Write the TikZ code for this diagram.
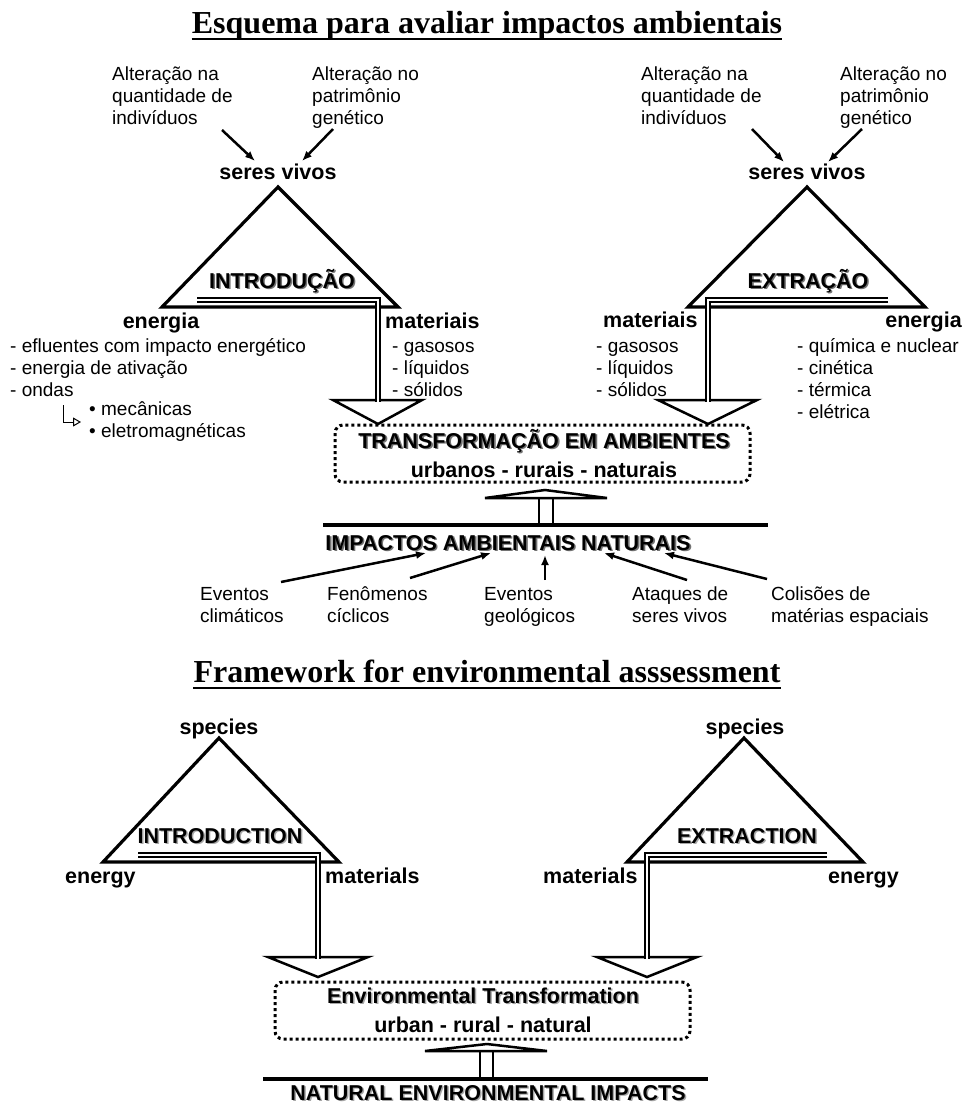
\documentclass[tikz,border=0pt]{standalone}
\usepackage{fontspec}
\setmainfont{Liberation Sans}
\newfontfamily\ttlfont{Liberation Serif}
\usetikzlibrary{arrows.meta}
\tikzset{
 body/.style={font=\fontsize{19}{22}\selectfont, inner sep=0pt, align=left},
 lab/.style={font=\bfseries\fontsize{21.5}{24}\selectfont, inner sep=0pt},
 ttl/.style={font=\ttlfont\bfseries\fontsize{32}{36}\selectfont, inner sep=0pt},
 shdark/.style={lab, text=black!55},
 shlight/.style={lab, text=black!35},
 tri/.style={draw, line width=3.2pt, line join=miter},
 dbl/.style={draw=black, line width=2.2pt, double=white, double distance=2.4pt, line join=miter},
 hd/.style={draw, line width=2.5pt, fill=white, line join=miter},
 dotbox/.style={draw, line width=3pt, dash pattern=on 3pt off 3pt, rounded corners=8pt},
 barline/.style={line width=3.5pt},
 arr/.style={line width=2.5pt, -{Latex[length=10pt,width=8pt]}},
 thinarr/.style={line width=1pt, -{Triangle[open,length=8pt,width=9pt]}},
 uline/.style={line width=2.8pt},
}
\begin{document}
\begin{tikzpicture}[x=1pt,y=-1pt]
\fill[white] (0,0) rectangle (963,1104);
\useasboundingbox (0,0) rectangle (963,1104);

% ---------- Title 1
\node[ttl, anchor=base] (t1) at (487,33) {Esquema para avaliar impactos ambientais};
\draw[uline] ([yshift=-6pt]t1.base west) -- ([yshift=-6pt]t1.base east);

% ---------- top-left block (multi-line nodes: base = last line)
\node[body, anchor=base west] (q1) at (112,124) {Alteração na\\quantidade de\\indivíduos};
\node[body, anchor=base west] (g1) at (312,124) {Alteração no\\patrimônio\\genético};
\node[lab, anchor=base] (sv1) at (278,179) {seres vivos};
\coordinate (q1a) at (222,130); \coordinate (q1b) at (255,161);
\coordinate (g1a) at (333,129); \coordinate (g1b) at (302,161);
\draw[arr] (q1a) -- (q1b);
\draw[arr] (g1a) -- (g1b);

\coordinate (T1a) at (278,187); \coordinate (T1b) at (162,307); \coordinate (T1c) at (398,307);
\draw[tri] (T1a) -- (T1b) -- (T1c) -- cycle;

\coordinate (H1l) at (333,400); \coordinate (H1r) at (422,400); \coordinate (H1t) at (378,424);
\draw[hd] (H1l) -- (H1r) -- (H1t) -- cycle;
\coordinate (S1a) at (197,300); \coordinate (S1b) at (378,300); \coordinate (S1c) at (378,401.5);
\draw[dbl] (S1a) -- (S1b) -- (S1c);

\node[shdark, anchor=base] (intS) at (283.6,289.6) {INTRODUÇÃO};
\node[lab, anchor=base] (int) at (282,288) {INTRODUÇÃO};

\node[lab, anchor=base] (en1) at (161,328) {energia};
\node[lab, anchor=base west] (ma1) at (385,328) {materiais};
\node[body, anchor=base west] (enl1) at (10,396) {- efluentes com impacto energético\\- energia de ativação\\- ondas};
\node[body, anchor=base west] (ond) at (89,437) {• mecânicas\\• eletromagnéticas};
\coordinate (o1) at (63,405); \coordinate (o2) at (63,422); \coordinate (o3) at (81,422);
\draw[thinarr] (o1) -- (o2) -- (o3);
\node[body, anchor=base west] (mal1) at (392,396) {- gasosos\\- líquidos\\- sólidos};

% ---------- top-right block
\node[body, anchor=base west] (q2) at (641,124) {Alteração na\\quantidade de\\indivíduos};
\node[body, anchor=base west] (g2) at (840,124) {Alteração no\\patrimônio\\genético};
\node[lab, anchor=base] (sv2) at (807,179) {seres vivos};
\coordinate (q2a) at (752,129); \coordinate (q2b) at (784,162);
\coordinate (g2a) at (862,129); \coordinate (g2b) at (828,162);
\draw[arr] (q2a) -- (q2b);
\draw[arr] (g2a) -- (g2b);

\coordinate (T2a) at (807,187); \coordinate (T2b) at (688,307); \coordinate (T2c) at (925,307);
\draw[tri] (T2a) -- (T2b) -- (T2c) -- cycle;

\coordinate (H2l) at (658,400); \coordinate (H2r) at (757,400); \coordinate (H2t) at (708,424);
\draw[hd] (H2l) -- (H2r) -- (H2t) -- cycle;
\coordinate (S2a) at (888,300); \coordinate (S2b) at (708,300); \coordinate (S2c) at (708,401.5);
\draw[dbl] (S2a) -- (S2b) -- (S2c);

\node[shdark, anchor=base] (extS) at (809.6,289.6) {EXTRAÇÃO};
\node[lab, anchor=base] (ext) at (808,288) {EXTRAÇÃO};

\node[lab, anchor=base west] (ma2) at (603,327) {materiais};
\node[lab, anchor=base east] (en2) at (962,327) {energia};
\node[body, anchor=base west] (mal2) at (596,396) {- gasosos\\- líquidos\\- sólidos};
\node[body, anchor=base west] (enl2) at (797,418) {- química e nuclear\\- cinética\\- térmica\\- elétrica};

% ---------- transformation box (top)
\draw[dotbox] (335,425) rectangle (750,482);
\node[shdark, anchor=base] (trS) at (545.6,449.6) {TRANSFORMAÇÃO EM AMBIENTES};
\node[lab, anchor=base] (tr) at (544,448) {TRANSFORMAÇÃO EM AMBIENTES};
\node[lab, anchor=base] (urb) at (544,477) {urbanos - rurais - naturais};

% ---------- up arrow and bar (top)
\coordinate (U1l) at (485,498); \coordinate (U1t) at (545,490); \coordinate (U1r) at (607,498);
\draw[hd] (U1l) -- (U1t) -- (U1r) -- cycle;
\coordinate (U1a) at (539,498); \coordinate (U1b) at (539,525);
\coordinate (U1c) at (553,498); \coordinate (U1d) at (553,525);
\draw[line width=2.5pt] (U1a) -- (U1b) (U1c) -- (U1d);
\coordinate (B1a) at (323,525); \coordinate (B1b) at (768,525);
\draw[barline] (B1a) -- (B1b);

\node[shdark, anchor=base] (impS) at (509.6,551.6) {IMPACTOS AMBIENTAIS NATURAIS};
\node[lab, anchor=base] (imp) at (508,550) {IMPACTOS AMBIENTAIS NATURAIS};

\node[body, anchor=base west] (ev1) at (200,622) {Eventos\\climáticos};
\node[body, anchor=base west] (fe1) at (327,622) {Fenômenos\\cíclicos};
\node[body, anchor=base west] (ev2) at (484,622) {Eventos\\geológicos};
\node[body, anchor=base west] (at1) at (632,622) {Ataques de\\seres vivos};
\node[body, anchor=base west] (co1) at (771,622) {Colisões de\\matérias espaciais};
\coordinate (p1a) at (281,582); \coordinate (p1b) at (426,553);
\coordinate (p2a) at (410,578); \coordinate (p2b) at (491,553);
\coordinate (p3a) at (545,580); \coordinate (p3b) at (545,555);
\coordinate (p4a) at (687,580); \coordinate (p4b) at (604,553);
\coordinate (p5a) at (767,579); \coordinate (p5b) at (664,553);
\draw[arr] (p1a) -- (p1b);
\draw[arr] (p2a) -- (p2b);
\draw[arr] (p3a) -- (p3b);
\draw[arr] (p4a) -- (p4b);
\draw[arr] (p5a) -- (p5b);

% ---------- Title 2
\node[ttl, anchor=base] (t2) at (487,682) {Framework for environmental asssessment};
\draw[uline] ([yshift=-6pt]t2.base west) -- ([yshift=-6pt]t2.base east);

% ---------- bottom-left
\node[lab, anchor=base] (sp1) at (219,734) {species};
\coordinate (T3a) at (219,738); \coordinate (T3b) at (103,862); \coordinate (T3c) at (339,862);
\draw[tri] (T3a) -- (T3b) -- (T3c) -- cycle;
\coordinate (H3l) at (268,957); \coordinate (H3r) at (368,957); \coordinate (H3t) at (318,977);
\draw[hd] (H3l) -- (H3r) -- (H3t) -- cycle;
\coordinate (S3a) at (138,855); \coordinate (S3b) at (318,855); \coordinate (S3c) at (318,958.5);
\draw[dbl] (S3a) -- (S3b) -- (S3c);
\node[shlight, anchor=base] (in2S) at (221.5,844.5) {INTRODUCTION};
\node[lab, anchor=base] (in2) at (220,843) {INTRODUCTION};
\node[lab, anchor=base west] (en3) at (65,883) {energy};
\node[lab, anchor=base west] (ma3) at (325,883) {materials};

% ---------- bottom-right
\node[lab, anchor=base] (sp2) at (745,734) {species};
\coordinate (T4a) at (744,738); \coordinate (T4b) at (627,862); \coordinate (T4c) at (863,862);
\draw[tri] (T4a) -- (T4b) -- (T4c) -- cycle;
\coordinate (H4l) at (597,957); \coordinate (H4r) at (697,957); \coordinate (H4t) at (647,977);
\draw[hd] (H4l) -- (H4r) -- (H4t) -- cycle;
\coordinate (S4a) at (827,855); \coordinate (S4b) at (647,855); \coordinate (S4c) at (647,958.5);
\draw[dbl] (S4a) -- (S4b) -- (S4c);
\node[shlight, anchor=base] (ex2S) at (748.5,844.5) {EXTRACTION};
\node[lab, anchor=base] (ex2) at (747,843) {EXTRACTION};
\node[lab, anchor=base west] (ma4) at (543,883) {materials};
\node[lab, anchor=base west] (en4) at (828,883) {energy};

% ---------- transformation box (bottom)
\draw[dotbox] (275,982) rectangle (690,1039);
\node[shlight, anchor=base] (etS) at (484.5,1004.5) {Environmental Transformation};
\node[lab, anchor=base] (et) at (483,1003) {Environmental Transformation};
\node[lab, anchor=base] (urn) at (483,1032) {urban - rural - natural};

\coordinate (U2l) at (425,1051); \coordinate (U2t) at (487,1044); \coordinate (U2r) at (547,1051);
\draw[hd] (U2l) -- (U2t) -- (U2r) -- cycle;
\coordinate (U2a) at (480,1051); \coordinate (U2b) at (480,1079);
\coordinate (U2c) at (493,1051); \coordinate (U2d) at (493,1079);
\draw[line width=2.5pt] (U2a) -- (U2b) (U2c) -- (U2d);
\coordinate (B2a) at (263,1079); \coordinate (B2b) at (708,1079);
\draw[barline] (B2a) -- (B2b);
\node[shlight, anchor=base] (natS) at (489.5,1101) {NATURAL ENVIRONMENTAL IMPACTS};
\node[lab, anchor=base] (nat) at (488,1100) {NATURAL ENVIRONMENTAL IMPACTS};
\end{tikzpicture}
\end{document}
